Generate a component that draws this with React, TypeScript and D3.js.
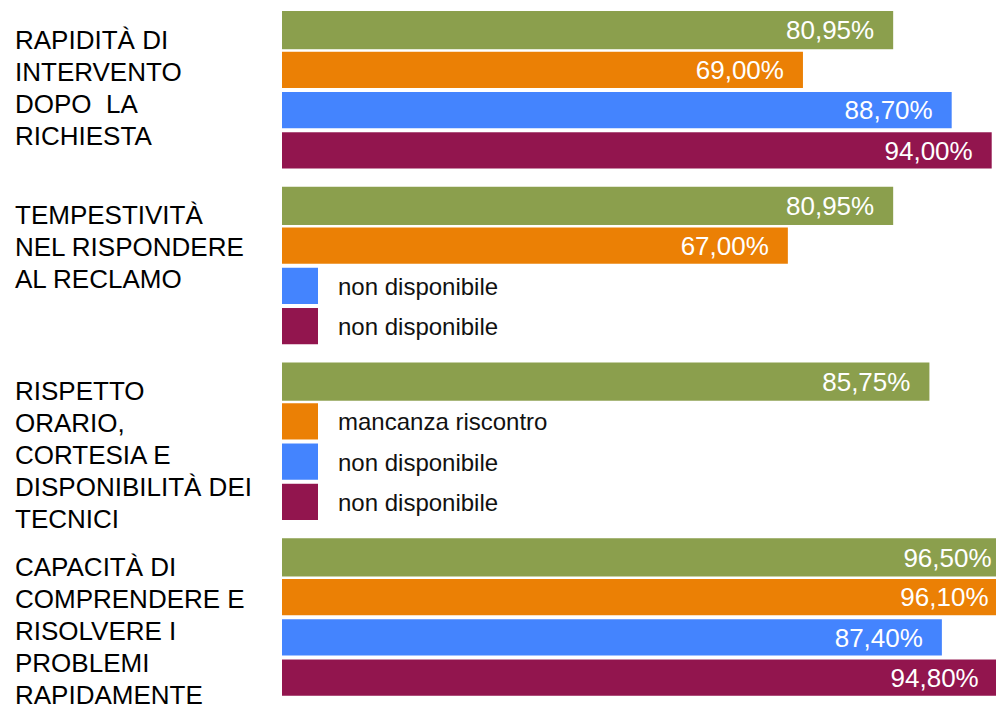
import React from "react";
import * as d3 from "d3";

// Survey categories (multi-line labels on the left)
const categories: string[][] = [
  ["RAPIDITÀ DI", "INTERVENTO", "DOPO  LA", "RICHIESTA"],
  ["TEMPESTIVITÀ", "NEL RISPONDERE", "AL RECLAMO"],
  ["RISPETTO", "ORARIO,", "CORTESIA E", "DISPONIBILITÀ DEI", "TECNICI"],
  ["CAPACITÀ DI", "COMPRENDERE E", "RISOLVERE I", "PROBLEMI", "RAPIDAMENTE"],
];

const seriesKeys = ["verde", "arancio", "blu", "bordeaux"];
const seriesColors = ["#8B9F4D", "#EB8005", "#4484FE", "#92154E"];

// Satisfaction percentages per series (null = no value)
const verdeValues: (number | null)[] = [80.95, 80.95, 85.75, 96.5];
const arancioValues: (number | null)[] = [69.0, 67.0, null, 96.1];
const bluValues: (number | null)[] = [88.7, null, null, 87.4];
const bordeauxValues: (number | null)[] = [94.0, null, null, 94.8];

// Notes shown in place of missing values
const arancioNotes = ["", "", "mancanza riscontro", ""];
const bluNotes = ["", "non disponibile", "non disponibile", ""];
const bordeauxNotes = ["", "non disponibile", "non disponibile", ""];

const allValues = [verdeValues, arancioValues, bluValues, bordeauxValues];
const allNotes = [["", "", "", ""], arancioNotes, bluNotes, bordeauxNotes];

const W = 996;
const H = 705;
const FONT = "'Liberation Sans', Arial, Helvetica, sans-serif";

const itFormat = d3.formatLocale({
  decimal: ",",
  thousands: ".",
  grouping: [3],
  currency: ["€", ""],
});
const fmt = itFormat.format(".2f");

export default function App() {
  const groupIdx = categories.map((_, i) => String(i));
  const y0 = d3.scaleBand<string>().domain(groupIdx).range([11, 714]).paddingInner(0);
  const y1 = d3
    .scaleBand<string>()
    .domain(seriesKeys)
    .range([0, 157])
    .paddingInner(0.1)
    .paddingOuter(0);
  const x = d3.scaleLinear().domain([0, 100]).range([282, 1037]);
  const labelSize = 26;
  const noteSize = 24;
  const lineH = 32;

  return (
    <svg
      width={W}
      height={H}
      style={{ position: "absolute", left: 0, top: 0, overflow: "hidden", background: "#fff" }}
    >
      {categories.map((lines, gi) => {
        const gy = y0(String(gi)) as number;
        return (
          <g key={gi}>
            <text
              x={15}
              y={gy + 37.5}
              fontFamily={FONT}
              fontSize={labelSize}
              fill="#000"
              style={{ whiteSpace: "pre" }}
            >
              {lines.map((ln, li) => (
                <tspan key={li} x={15} dy={li === 0 ? 0 : lineH}>
                  {ln}
                </tspan>
              ))}
            </text>
            {seriesKeys.map((sk, si) => {
              const v = allValues[si][gi];
              const by = gy + (y1(sk) as number);
              const bh = y1.bandwidth() + (si === 0 ? 2 : 0);
              const barY = si === 0 ? by : by + 0.5;
              const cy = barY + bh / 2;
              if (v == null) {
                return (
                  <g key={sk}>
                    <rect x={x(0)} y={barY} width={36} height={bh} fill={seriesColors[si]} />
                    <text
                      x={338}
                      y={cy + 9}
                      fontFamily={FONT}
                      fontSize={noteSize}
                      fill="#111"
                    >
                      {allNotes[si][gi]}
                    </text>
                  </g>
                );
              }
              return (
                <g key={sk}>
                  <rect
                    x={x(0)}
                    y={barY}
                    width={x(v) - x(0)}
                    height={bh}
                    fill={seriesColors[si]}
                  />
                  <text
                    x={x(v) - 19}
                    y={cy + 0.36 * labelSize}
                    textAnchor="end"
                    fontFamily={FONT}
                    fontSize={labelSize}
                    fill="#fff"
                  >
                    {fmt(v) + "%"}
                  </text>
                </g>
              );
            })}
          </g>
        );
      })}
    </svg>
  );
}
